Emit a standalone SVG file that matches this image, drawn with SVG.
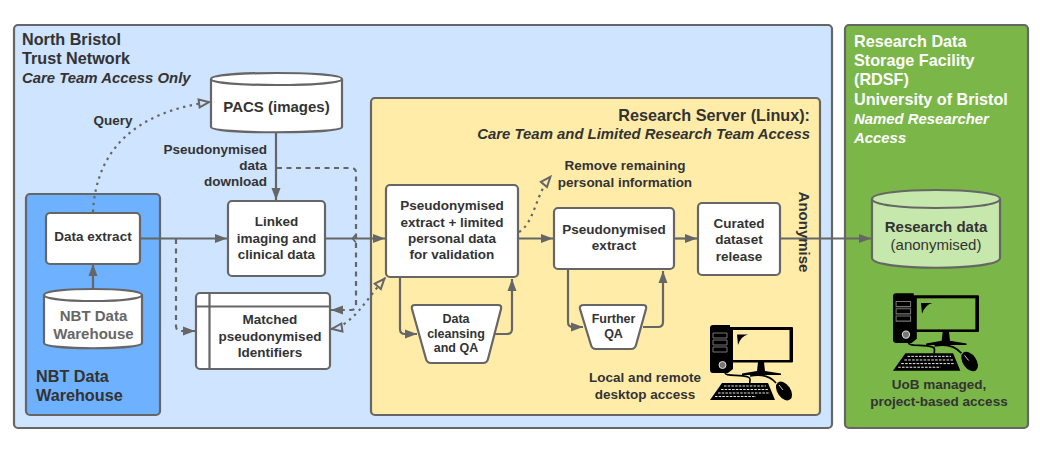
<svg xmlns="http://www.w3.org/2000/svg" width="1040" height="452" viewBox="0 0 1040 452">
<style>
text{font-family:"Liberation Sans",Arial,sans-serif;fill:#333;font-size:13.5px;font-weight:bold;text-anchor:middle}
.s{text-anchor:start}.e{text-anchor:end}
.h{font-size:16.2px}
.i{font-style:italic;font-size:14.9px}
.l{font-size:15px}
.t{font-size:12.5px}
.wt{fill:#fff}
.b{fill:#fff;stroke:#666;stroke-width:2.2;stroke-linejoin:round}
.c{fill:none;stroke:#666;stroke-width:2.2}
.d{stroke-dasharray:5 4.5}
.o{stroke-dasharray:2.4 4.4}
.frame{stroke:#666;stroke-width:2.2}
.scr{fill:inherit}
</style>
<defs>
<marker id="a" markerUnits="userSpaceOnUse" markerWidth="14" markerHeight="12" refX="13" refY="6" orient="auto"><path d="M1 1.500L13 6L1 10.500Z" fill="#666"/></marker>
<marker id="h" markerUnits="userSpaceOnUse" markerWidth="14" markerHeight="12" refX="13" refY="6" orient="auto-start-reverse"><path d="M2 2L12 6L2 10Z" fill="#cfe4ff" stroke="#666" stroke-width="2"/></marker>
<marker id="y" markerUnits="userSpaceOnUse" markerWidth="14" markerHeight="12" refX="13" refY="6" orient="auto"><path d="M2 2L12 6L2 10Z" fill="#ffeca9" stroke="#666" stroke-width="2"/></marker>
<symbol id="pc" viewBox="0 0 83 75" overflow="visible">
<path d="M3 0H20V4H23V44L18 48H3Q0 48 0 45V3Q0 0 3 0Z" fill="#000"/>
<path d="M3 8H17V13H3ZM3 15H17V20H3ZM3 22H17V27H3Z" fill="none" stroke="#777" stroke-width="1"/>
<circle cx="12.500" cy="40" r="3.500" fill="#777" stroke="#ddd" stroke-width="1"/>
<rect x="18.500" y="2" width="64.500" height="35.500" fill="#000" rx="1"/>
<rect class="scr" x="23" y="5" width="56.500" height="30"/>
<path d="M27 9.500H38Q31 11 28 20Z" fill="#000"/>
<path d="M48 37H54L55 46L71 48.500V50H32V48.500L47 46Z" fill="#000"/>
<path d="M15 48C16 52 30 49 38 52C42 53 39 56 40 59M40 51C50 49 60 51 66 58" fill="none" stroke="#000" stroke-width="1.600"/>
<path d="M12 58H58L65 75H0Z" fill="#000"/>
<path d="M14 61H56M11 64.500H58M8 68H60M5 71.500H46" stroke="#fff" stroke-width="0.900" stroke-dasharray="2.500 1.200" fill="none"/>
<ellipse cx="74" cy="66" rx="6.500" ry="10.500" transform="rotate(-35 74 66)" fill="#000"/>
<path d="M69 60L73 65" stroke="#fff" stroke-width="0.800"/>
</symbol>
</defs>
<rect width="1040" height="452" fill="#fff"/>

<g id="north-bristol">
<rect class="frame" x="14" y="25" width="818" height="403" rx="4" fill="#cfe4ff"/>
<text class="s h" x="22" y="45">North Bristol</text>
<text class="s h" x="22" y="64">Trust Network</text>
<text class="s i" x="22" y="83">Care Team Access Only</text>
</g>
<g id="rdsf">
<rect class="frame" x="845" y="25" width="183" height="403" rx="4" fill="#7ab648"/>
<text class="s h wt" x="854" y="47">Research Data</text>
<text class="s h wt" x="854" y="66">Storage Facility</text>
<text class="s h wt" x="854" y="85">(RDSF)</text>
<text class="s h wt" x="854" y="105">University of Bristol</text>
<text class="s i wt" x="854" y="124">Named Researcher</text>
<text class="s i wt" x="854" y="143">Access</text>
</g>
<g id="nbt-warehouse-zone">
<rect class="frame" x="26" y="194" width="134" height="221" rx="4" fill="#6db1ff"/>
<text class="s h" x="36" y="382">NBT Data</text>
<text class="s h" x="36" y="401">Warehouse</text>
</g>
<g id="research-server">
<rect class="frame" x="371" y="98" width="449" height="317" rx="4" fill="#ffeca9"/>
<text class="e h" x="810" y="121">Research Server (Linux):</text>
<text class="e i" x="810" y="139">Care Team and Limited Research Team Access</text>
<text x="625" y="170">Remove remaining</text>
<text x="625" y="186.500">personal information</text>
<text x="645" y="382">Local and remote</text>
<text x="645" y="399">desktop access</text>
</g>

<g id="connectors">
<path class="c" d="M93 290V264" marker-end="url(#a)"/>
<path class="c o" d="M93 212C96 150 135 112 210 102" marker-end="url(#h)"/>
<path class="c" d="M140 238.500H227" marker-end="url(#a)"/>
<path class="c d" d="M176 239V326Q176 331 181 331H195" marker-end="url(#a)"/>
<path class="c" d="M276 131V200" marker-end="url(#a)"/>
<path class="c d" d="M277 168H351Q356 168 356 173V305Q356 310 351 310H331" marker-end="url(#a)"/>
<path class="c" d="M325 238.500H385" marker-end="url(#a)"/>
<path d="M356 234.500L352.500 238.500L356 242.500" fill="none" stroke="#666" stroke-width="1.800"/>
<path class="c o" d="M331 329C352 326 366 300 385 278" marker-start="url(#h)" marker-end="url(#y)"/>
<path class="c o" d="M519 232C535 222 535 195 551 176" marker-end="url(#y)"/>
<path class="c" d="M518 238.500H553" marker-end="url(#a)"/>
<path class="c" d="M674 238.500H697" marker-end="url(#a)"/>
<path class="c" d="M780 238.500H871" marker-end="url(#a)"/>
<path class="c" d="M400 277V329Q400 334 405 334H417" marker-end="url(#a)"/>
<path class="c" d="M495 334H507Q512 334 512 329V279" marker-end="url(#a)"/>
<path class="c" d="M568 269V322Q568 327 573 327H583" marker-end="url(#a)"/>
<path class="c" d="M643 327H658Q663 327 663 322V271" marker-end="url(#a)"/>
</g>

<g id="pacs">
<path class="b" d="M211 79C211 71 342 71 342 79V127C342 134 211 134 211 127Z"/>
<path class="c" d="M211 79C211 87 342 87 342 79"/>
<text class="l" x="276.500" y="112">PACS (images)</text>
</g>
<text class="e" x="267" y="153.500">Pseudonymised</text>
<text class="e" x="267" y="170">data</text>
<text class="e" x="267" y="186">download</text>
<text x="113" y="125">Query</text>
<g id="data-extract">
<rect class="b" x="46" y="213" width="94" height="51" rx="4"/>
<text x="93" y="241">Data extract</text>
</g>
<g id="nbt-data-warehouse">
<path class="b" d="M44 295C44 287 142 287 142 295V343C142 350 44 350 44 343Z"/>
<path class="c" d="M44 295C44 303 142 303 142 295"/>
<text class="l" x="93.500" y="321" style="fill:#666">NBT Data</text>
<text class="l" x="93.500" y="339" style="fill:#666">Warehouse</text>
</g>
<g id="linked">
<rect class="b" x="228" y="201" width="97" height="75" rx="4"/>
<text x="276.500" y="226">Linked</text>
<text x="276.500" y="243">imaging and</text>
<text x="276.500" y="259">clinical data</text>
</g>
<g id="matched">
<rect class="b" x="196" y="293" width="134" height="76" rx="4"/>
<path class="c" d="M196 306.500H330M209.500 293V369"/>
<text x="270" y="324">Matched</text>
<text x="270" y="340.500">pseudonymised</text>
<text x="270" y="357">Identifiers</text>
</g>
<g id="pseudo-limited">
<rect class="b" x="386" y="185" width="132" height="92" rx="4"/>
<text x="452" y="210">Pseudonymised</text>
<text x="452" y="226.500">extract + limited</text>
<text x="452" y="243">personal data</text>
<text x="452" y="259">for validation</text>
</g>
<g id="pseudo-extract">
<rect class="b" x="554" y="208" width="120" height="61" rx="4"/>
<text x="614" y="233.500">Pseudonymised</text>
<text x="614" y="250">extract</text>
</g>
<g id="curated">
<rect class="b" x="698" y="203" width="82" height="72" rx="4"/>
<text x="739" y="227.500">Curated</text>
<text x="739" y="244">dataset</text>
<text x="739" y="260.500">release</text>
</g>
<g id="cleansing">
<path class="b" d="M415 305H498Q502 305 501 309L488 359Q487 363 483 363H431Q427 363 426 359L412 309Q411 305 415 305Z"/>
<text class="t" x="456" y="323">Data</text>
<text class="t" x="456" y="338">cleansing</text>
<text class="t" x="456" y="352">and QA</text>
</g>
<g id="further-qa">
<path class="b" d="M584 305H643Q647 305 646 309L636 345Q635 349 631 349H596Q592 349 591 345L580 309Q579 305 584 305Z"/>
<text class="t" x="613.500" y="323">Further</text>
<text class="t" x="613.500" y="338">QA</text>
</g>
<text class="l" transform="translate(799 232) rotate(90)">Anonymise</text>
<g id="research-data">
<path d="M872 199C872 187 1000 187 1000 199V258C1000 271 872 271 872 258Z" fill="#c7e8ac" stroke="#666" stroke-width="2.200"/>
<path class="c" d="M872 199C872 211 1000 211 1000 199"/>
<text class="l" x="936" y="232">Research data</text>
<text class="l" x="936" y="250" style="font-weight:normal">(anonymised)</text>
</g>
<g id="pc-local">
<use href="#pc" x="710" y="325" width="83" height="75" style="fill:#ffeca9"/>
</g>
<g id="pc-uob">
<use href="#pc" x="893" y="293" width="86" height="78" style="fill:#7ab648"/>
</g>
<text x="939" y="389">UoB managed,</text>
<text x="939" y="405.500">project-based access</text>
</svg>
